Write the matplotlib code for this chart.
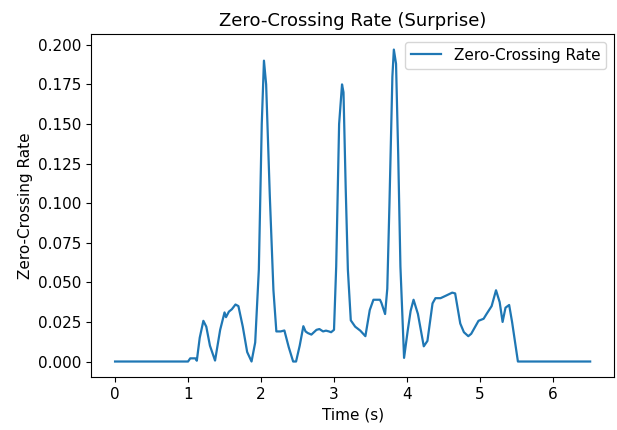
import matplotlib
matplotlib.use('Agg')
import matplotlib.pyplot as plt

# values (time in s, zero-crossing rate)
times = [0.00, 1.00, 1.03, 1.10, 1.12, 1.16, 1.21, 1.25, 1.30, 1.37,
         1.44, 1.50, 1.52, 1.56, 1.60, 1.65, 1.69, 1.75, 1.81, 1.87,
         1.92, 1.97, 2.01, 2.04, 2.07, 2.12, 2.17, 2.21, 2.27, 2.32,
         2.38, 2.44, 2.48, 2.53, 2.58, 2.61, 2.64, 2.69, 2.76, 2.80,
         2.85, 2.89, 2.93, 2.96, 3.00, 3.03, 3.07, 3.11, 3.13, 3.16,
         3.19, 3.23, 3.29, 3.36, 3.43, 3.49, 3.54, 3.63, 3.65, 3.70,
         3.73, 3.76, 3.80, 3.82, 3.85, 3.88, 3.91, 3.96, 4.01, 4.05,
         4.09, 4.15, 4.23, 4.28, 4.35, 4.39, 4.46, 4.53, 4.62, 4.66,
         4.73, 4.78, 4.84, 4.88, 4.98, 5.05, 5.09, 5.16, 5.22, 5.27,
         5.31, 5.35, 5.40, 5.44, 5.52, 6.51]
zcr = [0.000, 0.000, 0.002, 0.002, 0.0005, 0.015, 0.0257, 0.022, 0.010, 0.0006,
       0.020, 0.031, 0.028, 0.0315, 0.033, 0.036, 0.035, 0.022, 0.006, 0.000,
       0.012, 0.058, 0.150, 0.190, 0.175, 0.105, 0.045, 0.019, 0.019, 0.0196,
       0.009, 0.000, 0.000, 0.010, 0.0223, 0.019, 0.018, 0.017, 0.020, 0.0205,
       0.019, 0.0195, 0.019, 0.0185, 0.020, 0.060, 0.150, 0.175, 0.170, 0.110,
       0.058, 0.026, 0.022, 0.0195, 0.016, 0.0325, 0.039, 0.039, 0.037, 0.030,
       0.046, 0.100, 0.180, 0.197, 0.188, 0.130, 0.060, 0.0023, 0.0195, 0.032,
       0.039, 0.030, 0.0096, 0.013, 0.0367, 0.040, 0.040, 0.0415, 0.0435, 0.043,
       0.024, 0.0185, 0.016, 0.0175, 0.0257, 0.027, 0.030, 0.035, 0.045, 0.0375,
       0.025, 0.034, 0.0357, 0.025, 0.000, 0.000]

fs = 11

fig = plt.figure(figsize=(6.17, 4.30), dpi=100)
ax = fig.add_axes([0.148, 0.123, 0.847, 0.798])

ax.plot(times, zcr, color='#1f77b4', linewidth=1.6, label='Zero-Crossing Rate')

ax.set_title('Zero-Crossing Rate (Surprise)', fontsize=13)
ax.set_xlabel('Time (s)', fontsize=fs)
ax.set_ylabel('Zero-Crossing Rate', fontsize=fs)
ax.tick_params(labelsize=fs)
ax.set_yticks([0.0, 0.025, 0.05, 0.075, 0.1, 0.125, 0.15, 0.175, 0.2])
ax.yaxis.set_major_formatter(matplotlib.ticker.FormatStrFormatter('%.3f'))
ax.legend(loc='upper right', fontsize=fs)

fig.savefig('out.png', dpi=100)
